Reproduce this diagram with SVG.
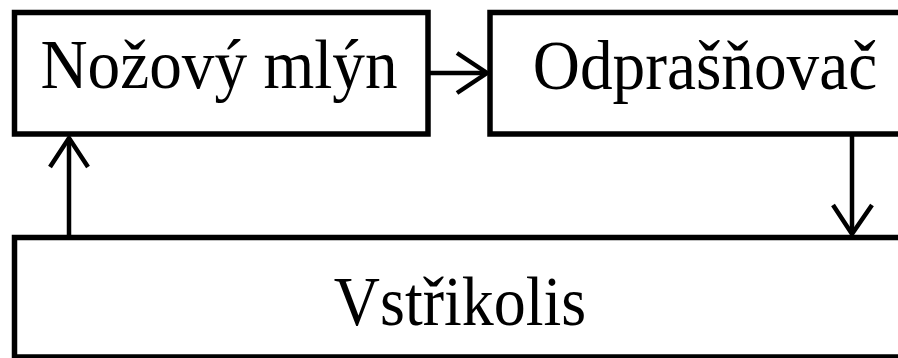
<svg xmlns="http://www.w3.org/2000/svg" width="898" height="358" viewBox="0 0 898 358">
<style>
.box{fill:#fff;stroke:#000;stroke-width:5.5}
.lbl{font-family:"Liberation Serif","Times New Roman",serif;font-size:64px;fill:#000;text-anchor:middle}
.conn{stroke:#000;stroke-width:4.5;fill:none}
.head{stroke:#000;stroke-width:4.5;fill:none;stroke-linejoin:miter}
</style>
<rect width="898" height="358" fill="#fff"/>
<g id="nozovy-mlyn">
<rect class="box" x="14.5" y="12.5" width="413.5" height="121.5"/>
<text class="lbl" transform="translate(219,88) scale(1.02,1.1)">Nožový mlýn</text>
</g>
<g id="odprasnovac">
<rect class="box" x="490" y="12.5" width="420" height="121.5"/>
<text class="lbl" transform="translate(705,89) scale(1.02,1.1)">Odprašňovač</text>
</g>
<g id="vstrikolis">
<rect class="box" x="14.5" y="237.5" width="900" height="119.5"/>
<text class="lbl" transform="translate(460,325) scale(1,1.1)">Vstřikolis</text>
</g>
<g id="connectors">
<line class="conn" x1="430" y1="73" x2="486" y2="73"/>
<polyline class="head" points="457,53 487,73 457,93"/>
<line class="conn" x1="852" y1="136" x2="852" y2="233"/>
<polyline class="head" points="833,205 852,234 872,205"/>
<line class="conn" x1="69" y1="235" x2="69" y2="138"/>
<polyline class="head" points="50,167 69,138 88,167"/>
</g>
</svg>
